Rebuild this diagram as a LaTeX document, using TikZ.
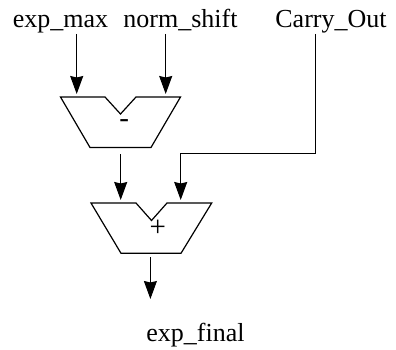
\documentclass[tikz,border=0pt]{standalone}
\usepackage{fontspec}
\setmainfont{Liberation Serif}
\usetikzlibrary{arrows.meta}
\begin{document}
\begin{tikzpicture}[x=1pt,y=-1pt,
  wire/.style={line width=1.1pt},
  arr/.style={wire,-{Stealth[length=18pt,width=13pt,inset=1.5pt]}},
  alu/.style={line width=1.2pt,line join=miter},
  lbl/.style={font=\fontsize{26}{30}\selectfont,inner sep=0pt,anchor=base},
  op/.style={font=\fontsize{29}{30}\selectfont,inner sep=0pt}]
\useasboundingbox (0,0) rectangle (396,350);
% labels
\node[lbl] (expmax) at (60.5,27.5) {exp\_max};
\node[lbl] (norm) at (180.5,27.5) {norm\_shift};
\node[lbl] (carry) at (331,27.5) {Carry\_Out};
\node[lbl] (expfinal) at (195.5,341.5) {exp\_final};
% top ALU
\draw[alu] (60.5,97) -- (105,97) -- (120.5,114) -- (136,97) -- (180.5,97)
  -- (151,147.5) -- (90,147.5) -- cycle;
\node[op] (minus) at (124.2,123.5) {-};
\coordinate (subA) at (76.7,94);
\coordinate (subB) at (165.7,94);
\coordinate (subO) at (120.7,154);
% bottom ALU
\draw[alu] (91,203) -- (136,203) -- (151.5,220.5) -- (167,203) -- (211.7,203)
  -- (181,253.3) -- (121,253.3) -- cycle;
\node[op] (plus) at (157.8,228.5) {+};
\coordinate (addA) at (120.7,200);
\coordinate (addB) at (180.7,200);
\coordinate (addO) at (150.4,257);
\coordinate (outT) at (150.4,299);
% connectors
\coordinate (emT) at (76.7,34);
\coordinate (nsT) at (165.7,34);
\coordinate (coT) at (315.7,34);
\draw[arr] (emT) -- (subA);
\draw[arr] (nsT) -- (subB);
\draw[arr] (subO) -- (addA);
\draw[arr] (coT) |- (180.7,153.3) -- (addB);
\draw[arr] (addO) -- (outT);
\end{tikzpicture}
\end{document}
